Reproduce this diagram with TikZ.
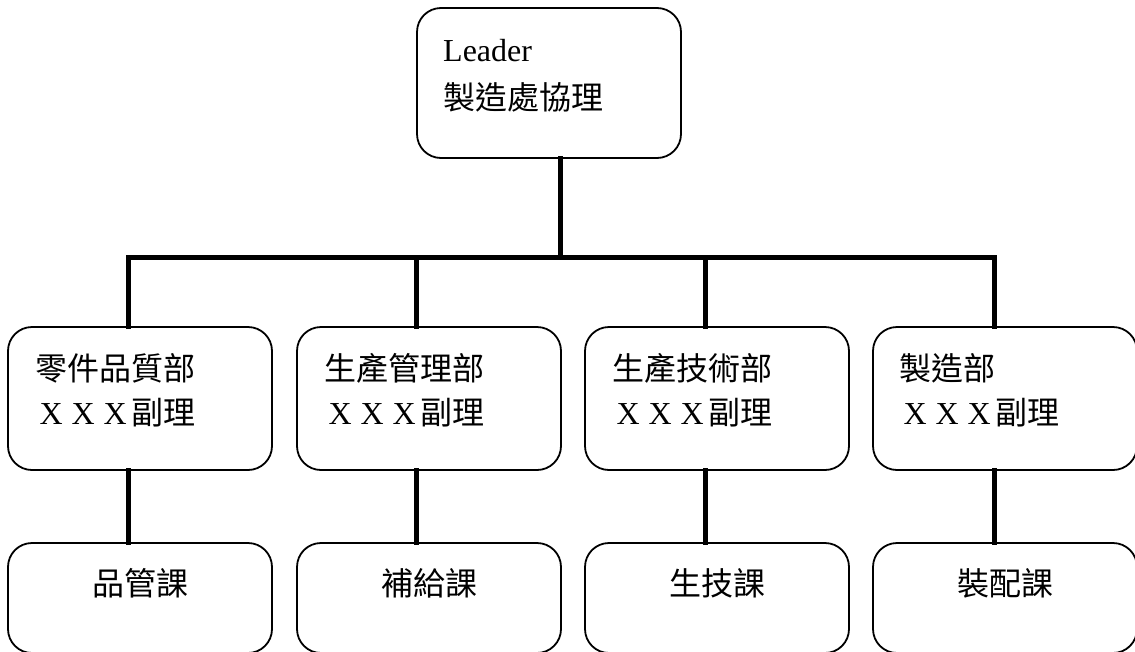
\documentclass[tikz,border=0pt]{standalone}
\usepackage{fontspec}
\setmainfont{Liberation Serif}
\newfontfamily\cjk{Noto Sans CJK TC}
\newcommand\xxxline{\makebox[32pt]{X}\makebox[32pt]{X}\makebox[32pt]{X}}
\begin{document}
\begin{tikzpicture}[x=1pt,y=-1pt,
  box/.style={draw=black,line width=1.8pt,rounded corners=24pt,fill=white},
  conn/.style={draw=black,line width=5pt,line join=miter,line cap=rect},
  lbl/.style={inner sep=0pt,font=\fontsize{32}{38}\selectfont,text=black}]
\clip (0,0) rectangle (1135,651);
\fill[white] (0,0) rectangle (1135,651);
% column connector positions
\coordinate (ct) at (560,0);
\coordinate (c1) at (128.5,0);
\coordinate (c2) at (416,0);
\coordinate (c3) at (705,0);
\coordinate (c4) at (994,0);
\coordinate (bus) at (0,257);
% boxes
\path[box] (417,8) rectangle (681,158) coordinate[pos=0.5] (topc);
\node[inner sep=0pt,minimum width=264pt,minimum height=150pt] (top) at (549,83) {};
\foreach \n/\x in {a/8,b/297,c/585,d/873}{
  \draw[box] (\x,327) rectangle ++(264,143);
  \node[inner sep=0pt,minimum width=264pt,minimum height=143pt] (r1\n) at (\x+132,398.5) {};
  \draw[box] (\x,543) rectangle ++(264,110);
  \node[inner sep=0pt,minimum width=264pt,minimum height=110pt] (r2\n) at (\x+132,598) {};
}
% connectors
\draw[conn] (top.south -| ct) -- (ct |- bus);
\draw[conn] (r1a.north -| c1) -- (c1 |- bus) -- (c4 |- bus) -- (r1d.north -| c4);
\draw[conn] (r1b.north -| c2) -- (c2 |- bus);
\draw[conn] (r1c.north -| c3) -- (c3 |- bus);
\draw[conn] (r1a.south -| c1) -- (r2a.north -| c1);
\draw[conn] (r1b.south -| c2) -- (r2b.north -| c2);
\draw[conn] (r1c.south -| c3) -- (r2c.north -| c3);
\draw[conn] (r1d.south -| c4) -- (r2d.north -| c4);
% texts
\node[lbl,anchor=base west] (t1) at (443,61) {Leader};
\node[lbl,anchor=base west] (t2) at (443,109) {\cjk 製造處協理};
\node[lbl,anchor=base west] (a1) at (35,380) {\cjk 零件品質部};
\node[lbl,anchor=base west] (a2) at (35,424) {\xxxline{\cjk 副理}};
\node[lbl,anchor=base west] (b1) at (324,380) {\cjk 生產管理部};
\node[lbl,anchor=base west] (b2) at (324,424) {\xxxline{\cjk 副理}};
\node[lbl,anchor=base west] (c1t) at (612,380) {\cjk 生產技術部};
\node[lbl,anchor=base west] (c2t) at (612,424) {\xxxline{\cjk 副理}};
\node[lbl,anchor=base west] (d1) at (899,380) {\cjk 製造部};
\node[lbl,anchor=base west] (d2) at (899,424) {\xxxline{\cjk 副理}};
\node[lbl,anchor=base] (e1) at (140,595) {\cjk 品管課};
\node[lbl,anchor=base] (e2) at (429,595) {\cjk 補給課};
\node[lbl,anchor=base] (e3) at (717,595) {\cjk 生技課};
\node[lbl,anchor=base] (e4) at (1005,595) {\cjk 裝配課};
\end{tikzpicture}
\end{document}
